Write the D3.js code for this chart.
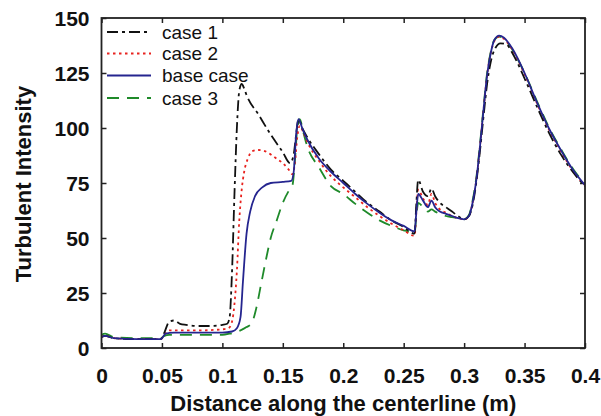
<!DOCTYPE html>
<html><head><meta charset="utf-8">
<script src="https://cdn.jsdelivr.net/npm/d3@7"></script>
<style>
html,body{margin:0;padding:0;background:#fff;}
text{font-family:"Liberation Sans",Arial,sans-serif;}
</style></head>
<body><svg id="c" width="601" height="416"></svg>
<script>
// ---- data ----
const xTickLabels = ["0","0.05","0.1","0.15","0.2","0.25","0.3","0.35","0.4"];
const yTickLabels = ["0","25","50","75","100","125","150"];
const seriesNames = ["case 1","case 2","base case","case 3"];

const case1X = [0,0.003,0.01,0.03,0.049,0.052,0.056,0.06,0.065,0.07,0.08,0.09,0.1,0.104,0.106,0.108,0.11,0.112,0.114,0.116,0.118,0.12,0.13,0.14,0.15,0.156,0.159,0.161,0.163,0.166,0.17,0.18,0.19,0.2,0.21,0.22,0.23,0.24,0.25,0.259,0.2605,0.262,0.266,0.27,0.273,0.276,0.28,0.285,0.29,0.295,0.3,0.304,0.307,0.31,0.313,0.316,0.319,0.322,0.326,0.33,0.335,0.34,0.35,0.36,0.37,0.38,0.39,0.4];
const case1Y = [5,5.5,4.5,4,4,7,12,12.5,11,10.5,10,10,10.5,11,14,35,70,100,117,120,118,115,106,97,89,84,88,97,104,100,96,88,81,76,71,66,62,58,55,52,66,76.5,71,69,72.5,69,66,64,62,60,58.5,60,65,75,89,105,120,130,136.5,138.5,138,134,122.5,110,98,88,80,73.5];

const case2X = [0,0.003,0.01,0.03,0.049,0.052,0.056,0.06,0.08,0.1,0.105,0.108,0.11,0.112,0.114,0.116,0.118,0.121,0.125,0.13,0.135,0.14,0.145,0.15,0.155,0.158,0.16,0.162,0.164,0.167,0.17,0.18,0.19,0.2,0.21,0.22,0.23,0.24,0.25,0.259,0.2605,0.262,0.266,0.27,0.273,0.276,0.28,0.285,0.29,0.295,0.3,0.304,0.307,0.31,0.313,0.316,0.319,0.322,0.325,0.329,0.333,0.34,0.35,0.36,0.37,0.38,0.39,0.4];
const case2Y = [5,5.5,4.5,4,4,6,8,8,8,8.5,9,12,20,35,58,72,80,86,89.5,90,89.5,88,86,84,81,79,84,96,101,98,94,85,78,73,68.5,64,60,56.5,53.5,51,62,72,68,65,70,66,63,61.5,60,59,58.5,60,66,76,91,108,124,134,139.5,141.5,140.5,135.5,124.5,111.5,99.5,89.5,80.5,74];

const baseX = [0,0.003,0.01,0.03,0.049,0.053,0.06,0.08,0.1,0.108,0.112,0.115,0.117,0.12,0.123,0.127,0.133,0.14,0.15,0.157,0.159,0.161,0.163,0.166,0.17,0.18,0.19,0.2,0.21,0.22,0.23,0.24,0.25,0.259,0.2605,0.262,0.266,0.27,0.273,0.276,0.28,0.285,0.29,0.295,0.3,0.304,0.307,0.31,0.313,0.316,0.319,0.322,0.325,0.329,0.333,0.34,0.35,0.36,0.37,0.38,0.39,0.4];
const baseY = [5,5.5,4.5,4,4,6.5,7,7,7,7.5,9,14,30,52,62,69,73,75,75.5,76,80,97,104,100,95,86,80,75,70,65.5,61.5,58,55.5,53,62,70,67,64,67,64,62,61,60,59,58.5,60,66,76,91,108,124,134,140,142,141,136,125,112,100,90,81,74];

const case3X = [0,0.003,0.01,0.03,0.049,0.052,0.056,0.06,0.08,0.1,0.106,0.11,0.115,0.12,0.124,0.128,0.132,0.136,0.14,0.145,0.15,0.155,0.158,0.16,0.162,0.164,0.167,0.17,0.18,0.19,0.2,0.21,0.22,0.23,0.24,0.25,0.259,0.2605,0.262,0.266,0.27,0.273,0.276,0.28,0.285,0.29,0.295,0.3,0.304,0.307,0.31,0.313,0.316,0.319,0.322,0.325,0.329,0.333,0.34,0.35,0.36,0.37,0.38,0.39,0.4];
const case3Y = [6,6.5,5,4.5,4.5,5.5,6,6,6,6,6.5,7,8,9.5,11,18,29,40,50,58,66,71.5,74,85,100,104,98,92,82,73.5,70,65.5,61.5,58,55.5,53.5,52.5,60,66,64,62,63,62,61,60,59.5,59,58.5,60.5,67,77,92,109,125,134.5,140,141.5,140.5,135.5,125,112.5,100.5,90.5,81.5,74.5];

const seriesX = [case1X, case2X, baseX, case3X];
const seriesY = [case1Y, case2Y, baseY, case3Y];

// ---- styles ----
const colors = ["#111111","#e8231f","#25258f","#1f8a2a"];
const dashes = ["11,4,3,4","2.5,3.5",null,"12,8"];

const svg = d3.select("#c");
const L = 101.5, R = 585, T = 18, B = 348;
const x = d3.scaleLinear().domain([0,0.4]).range([L,R]);
const y = d3.scaleLinear().domain([0,150]).range([B,T]);

svg.append("defs").append("clipPath").attr("id","clip")
  .append("rect").attr("x",L).attr("y",T).attr("width",R-L).attr("height",B-T);

const xVals = xTickLabels.map(Number), yVals = yTickLabels.map(Number);

// axes
const gx = svg.append("g").attr("transform",`translate(0,${B})`)
  .call(d3.axisBottom(x).tickValues(xVals).tickFormat((d,i)=>xTickLabels[i]).tickSizeInner(-5).tickSizeOuter(0));
gx.selectAll("text").attr("y",35).attr("dy",null)
  .style("font-size","21px").style("font-weight","bold").attr("fill","#111");
const gxt = svg.append("g").attr("transform",`translate(0,${T})`)
  .call(d3.axisTop(x).tickValues(xVals).tickSizeInner(-5).tickSizeOuter(0));
gxt.selectAll("text").remove();

const gy = svg.append("g").attr("transform",`translate(${L},0)`)
  .call(d3.axisLeft(y).tickValues(yVals).tickFormat((d,i)=>yTickLabels[i]).tickSizeInner(-5).tickSizeOuter(0));
gy.selectAll("text").attr("x",-12).attr("dy","0.36em")
  .style("font-size","21px").style("font-weight","bold").attr("fill","#111");
const gyr = svg.append("g").attr("transform",`translate(${R},0)`)
  .call(d3.axisRight(y).tickValues(yVals).tickSizeInner(-5).tickSizeOuter(0));
gyr.selectAll("text").remove();
svg.selectAll(".domain").remove();
svg.selectAll(".tick line").attr("stroke","#222").attr("stroke-width",1.5);

// lines
const line = d3.line().x(d=>x(d[0])).y(d=>y(d[1])).curve(d3.curveMonotoneX);
const plot = svg.append("g").attr("clip-path","url(#clip)");
[3,1,0,2].forEach(i=>{
  const pts = seriesX[i].map((v,j)=>[v, seriesY[i][j]]);
  plot.append("path").datum(pts).attr("d",line)
    .attr("fill","none").attr("stroke",colors[i]).attr("stroke-width",1.8)
    .attr("stroke-dasharray",dashes[i]);
});

// frame
svg.append("rect").attr("x",L).attr("y",T).attr("width",R-L).attr("height",B-T)
  .attr("fill","none").attr("stroke","#222").attr("stroke-width",1.8);

// legend
const legY = [32,53.5,75.5,98];
seriesNames.forEach((n,i)=>{
  svg.append("line").attr("x1",107).attr("x2",151).attr("y1",legY[i]).attr("y2",legY[i])
    .attr("stroke",colors[i]).attr("stroke-width",1.8).attr("stroke-dasharray",dashes[i]);
  svg.append("text").attr("x",162).attr("y",legY[i]+6.5).text(n)
    .style("font-size","19px").attr("fill","#111");
});

// axis titles
svg.append("text").attr("x",(L+R)/2).attr("y",411).attr("text-anchor","middle")
  .style("font-size","22px").style("font-weight","bold").attr("fill","#111")
  .text("Distance along the centerline (m)");
svg.append("text").attr("transform","translate(31,184) rotate(-90)").attr("text-anchor","middle")
  .style("font-size","22px").style("font-weight","bold").attr("fill","#111")
  .text("Turbulent Intensity");
</script></body></html>
